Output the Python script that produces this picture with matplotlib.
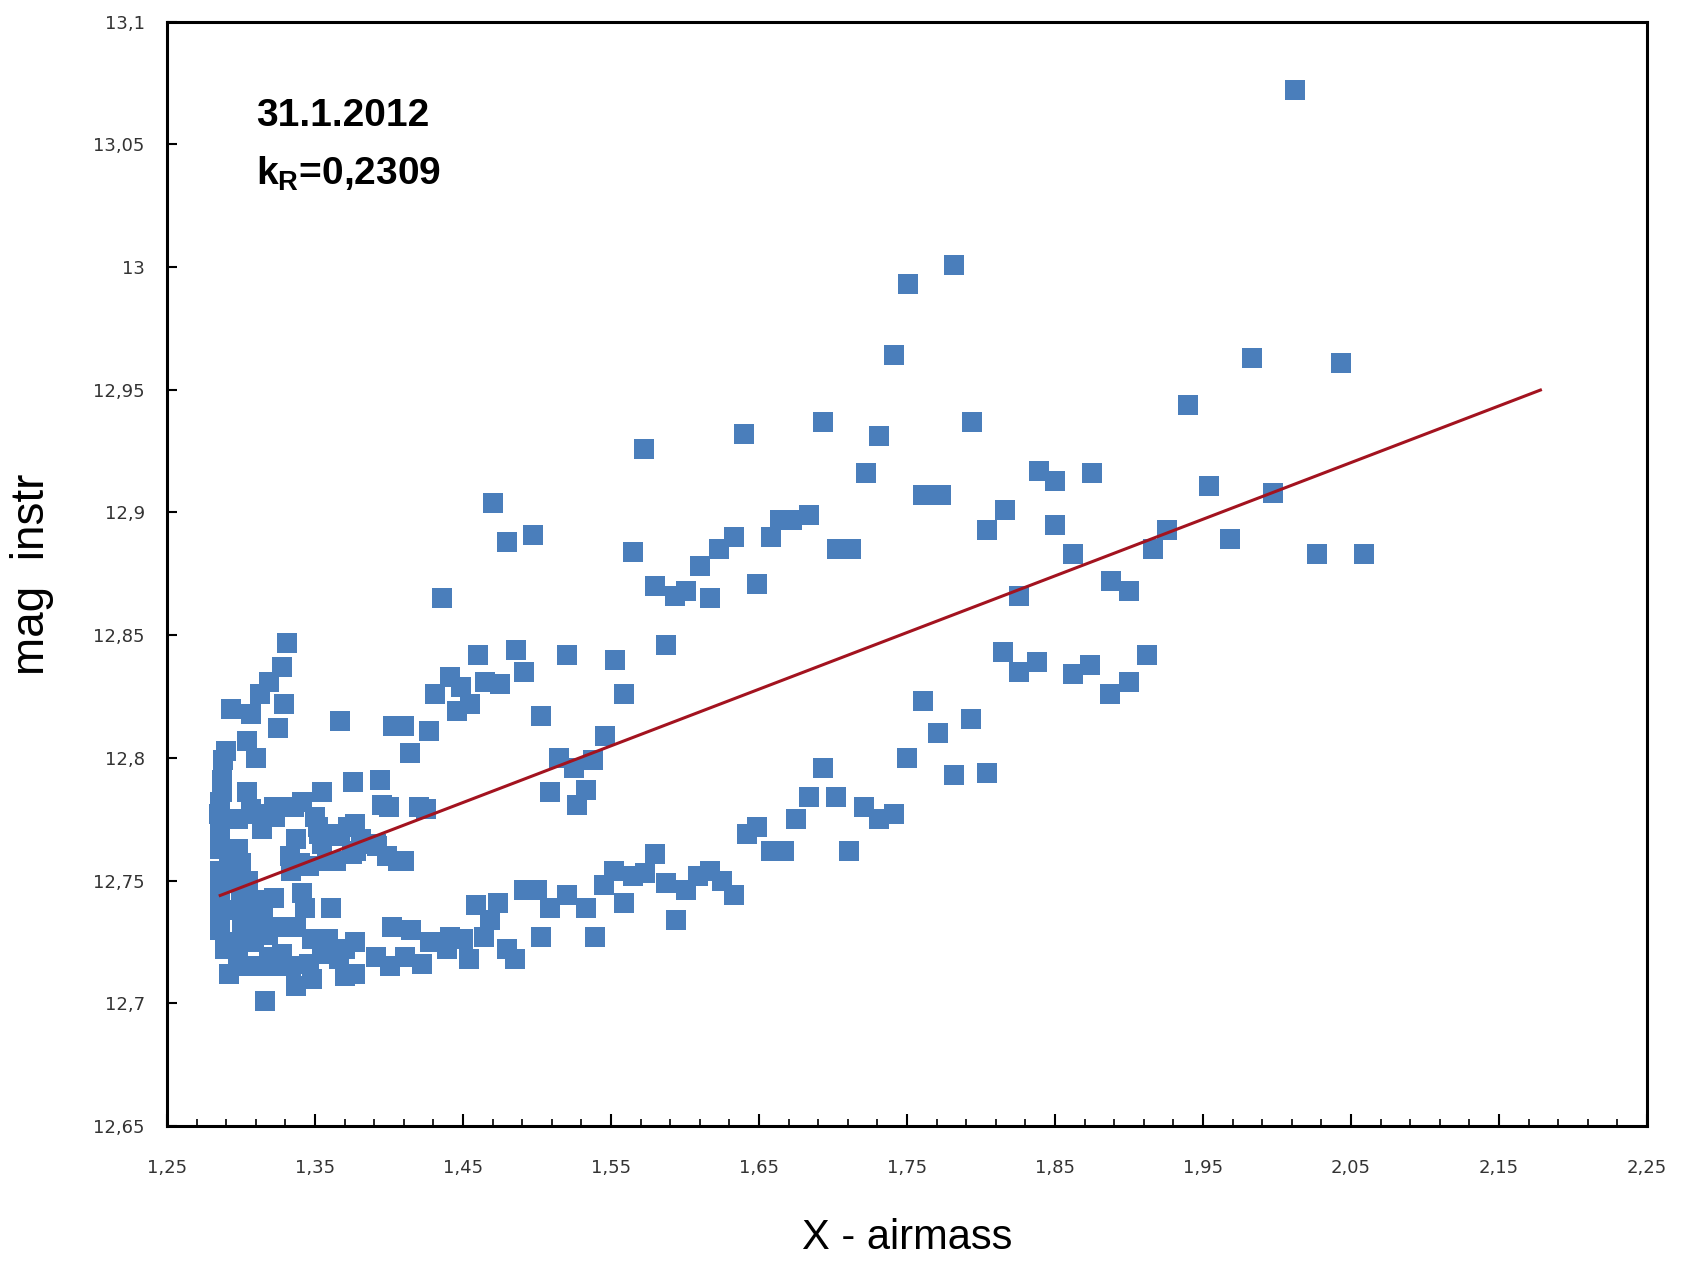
import numpy as np
import matplotlib
matplotlib.use("Agg")
import matplotlib.pyplot as plt
from matplotlib.ticker import FixedLocator, FuncFormatter

# airmass / instrumental magnitude
airmass = [
    # upper / right scattered points
    2.012, 1.782, 1.751, 1.741, 1.983, 2.043, 1.940, 1.693, 1.731, 1.794,
    1.640, 1.572, 1.722, 1.839, 1.850, 1.875, 1.954, 1.761, 1.773, 1.997,
    1.470, 1.816, 1.664, 1.672, 1.684, 1.804, 1.850, 1.926, 1.497, 1.480,
    1.658, 1.633, 1.623, 1.703, 1.712, 1.968, 1.565, 1.862, 1.916, 2.027,
    2.059, 1.610, 1.580, 1.649, 1.593, 1.601, 1.617, 1.888, 1.900, 1.436,
    1.826,
    # 12.84 group and middle
    1.460, 1.486, 1.520, 1.553, 1.587, 1.815, 1.912, 1.838, 1.874, 1.826,
    1.862, 1.900, 1.887, 1.559, 1.491, 1.441, 1.431, 1.449, 1.465, 1.475,
    1.455, 1.446, 1.427, 1.414, 1.410, 1.503, 1.546, 1.515, 1.525, 1.538,
    1.509, 1.533, 1.527, 1.420, 1.425, 1.410,
    1.761, 1.771, 1.793, 1.750, 1.782, 1.804,
    # lower right band
    1.693, 1.684, 1.702, 1.721, 1.731, 1.741, 1.675, 1.711, 1.642, 1.649,
    1.658, 1.667,
    # lower band
    1.520, 1.533, 1.539, 1.545, 1.552, 1.559, 1.565, 1.573, 1.580, 1.587,
    1.594, 1.601, 1.609, 1.617, 1.625, 1.633,
    1.377, 1.377, 1.391, 1.401, 1.411, 1.422, 1.402, 1.415, 1.428, 1.441,
    1.450, 1.454, 1.439, 1.459, 1.474, 1.468, 1.464, 1.491, 1.500, 1.509,
    1.480, 1.485, 1.503,
    1.376, 1.395, 1.400, 1.377, 1.378, 1.391, 1.399, 1.406,
    # left cluster
    1.331, 1.328, 1.319, 1.313, 1.329, 1.293, 1.307, 1.325, 1.367, 1.304,
    1.290, 1.288, 1.310, 1.287, 1.287, 1.286, 1.285, 1.304, 1.307, 1.322,
    1.323, 1.355, 1.341, 1.350,
    1.403, 1.394, 1.353, 1.360, 1.367, 1.372, 1.381, 1.392, 1.337, 1.333,
    1.340, 1.358,
    1.286, 1.286, 1.286, 1.286, 1.286, 1.286, 1.298, 1.298, 1.295, 1.301,
    1.301, 1.311, 1.314, 1.341, 1.343, 1.361, 1.310, 1.312, 1.325, 1.337,
    1.348, 1.359, 1.370, 1.296, 1.307, 1.319, 1.328, 1.334, 1.346, 1.355,
    1.366, 1.292, 1.303, 1.314, 1.325, 1.337, 1.348, 1.370, 1.316, 1.334,
    1.346, 1.336, 1.352, 1.355, 1.366, 1.364, 1.375, 1.300,
    1.295, 1.305, 1.300, 1.292, 1.296, 1.305, 1.309, 1.318, 1.289, 1.298,
    1.315, 1.322,
]
mag = [
    13.072, 13.001, 12.993, 12.964, 12.963, 12.961, 12.944, 12.937, 12.931, 12.937,
    12.932, 12.926, 12.916, 12.917, 12.913, 12.916, 12.911, 12.907, 12.907, 12.908,
    12.904, 12.901, 12.897, 12.897, 12.899, 12.893, 12.895, 12.893, 12.891, 12.888,
    12.890, 12.890, 12.885, 12.885, 12.885, 12.889, 12.884, 12.883, 12.885, 12.883,
    12.883, 12.878, 12.870, 12.871, 12.866, 12.868, 12.865, 12.872, 12.868, 12.865,
    12.866,
    12.842, 12.844, 12.842, 12.840, 12.846, 12.843, 12.842, 12.839, 12.838, 12.835,
    12.834, 12.831, 12.826, 12.826, 12.835, 12.833, 12.826, 12.829, 12.831, 12.830,
    12.822, 12.819, 12.811, 12.802, 12.813, 12.817, 12.809, 12.800, 12.796, 12.799,
    12.786, 12.787, 12.781, 12.780, 12.779, 12.758,
    12.823, 12.810, 12.816, 12.800, 12.793, 12.794,
    12.796, 12.784, 12.784, 12.780, 12.775, 12.777, 12.775, 12.762, 12.769, 12.772,
    12.762, 12.762,
    12.744, 12.739, 12.727, 12.748, 12.754, 12.741, 12.752, 12.753, 12.761, 12.749,
    12.734, 12.746, 12.752, 12.754, 12.750, 12.744,
    12.725, 12.712, 12.719, 12.715, 12.719, 12.716, 12.731, 12.730, 12.725, 12.727,
    12.726, 12.718, 12.722, 12.740, 12.741, 12.734, 12.727, 12.746, 12.746, 12.739,
    12.722, 12.718, 12.727,
    12.790, 12.781, 12.780, 12.773, 12.762, 12.765, 12.760, 12.758,
    12.847, 12.837, 12.831, 12.826, 12.822, 12.820, 12.818, 12.812, 12.815, 12.807,
    12.803, 12.799, 12.800, 12.791, 12.786, 12.782, 12.777, 12.786, 12.779, 12.780,
    12.776, 12.786, 12.782, 12.776,
    12.813, 12.791, 12.769, 12.769, 12.769, 12.772, 12.767, 12.764, 12.767, 12.760,
    12.757, 12.758,
    12.771, 12.763, 12.754, 12.746, 12.738, 12.730, 12.775, 12.763, 12.749, 12.739,
    12.731, 12.777, 12.771, 12.745, 12.739, 12.739, 12.742, 12.737, 12.731, 12.731,
    12.726, 12.726, 12.722, 12.725, 12.725, 12.719, 12.720, 12.715, 12.716, 12.720,
    12.718, 12.712, 12.715, 12.715, 12.715, 12.707, 12.710, 12.711, 12.701, 12.754,
    12.756, 12.780, 12.772, 12.765, 12.768, 12.758, 12.761, 12.757,
    12.757, 12.750, 12.745, 12.762, 12.738, 12.732, 12.726, 12.728, 12.722, 12.720,
    12.735, 12.743,
]

# linear trend (extinction coefficient)
k_R = 0.2309
intercept = 12.447
trend_x = [1.286, 2.178]

x_ticks = [1.25, 1.35, 1.45, 1.55, 1.65, 1.75, 1.85, 1.95, 2.05, 2.15, 2.25]
y_ticks = [12.65, 12.7, 12.75, 12.8, 12.85, 12.9, 12.95, 13.0, 13.05, 13.1]


def comma(v, pos=None):
    return ('%g' % round(v, 4)).replace('.', ',')


plt.rcParams['mathtext.fontset'] = 'custom'
plt.rcParams['mathtext.rm'] = 'Liberation Sans:bold'

fig = plt.figure(figsize=(16.88, 12.63), dpi=100)
ax = fig.add_axes([0.0989, 0.1085, 0.8768, 0.8743])

ax.plot(airmass, mag, 's', ms=14, color='#4a7ebb', mew=0, zorder=2)
tx = np.array(trend_x)
ax.plot(tx, intercept + k_R * tx, color='#a3131f', lw=2.2, zorder=3)

ax.set_xlim(1.25, 2.25)
ax.set_ylim(12.65, 13.1)

ax.xaxis.set_major_locator(FixedLocator(x_ticks))
ax.xaxis.set_minor_locator(FixedLocator(np.arange(1.25, 2.2501, 0.02)))
ax.yaxis.set_major_locator(FixedLocator(y_ticks))
ax.xaxis.set_major_formatter(FuncFormatter(comma))
ax.yaxis.set_major_formatter(FuncFormatter(comma))

ax.tick_params(axis='x', which='major', direction='in', length=9, width=1.5,
               pad=24, labelsize=13, labelcolor='#333333')
ax.tick_params(axis='x', which='minor', direction='in', length=5, width=1.2)
ax.tick_params(axis='y', which='major', direction='in', length=7, width=1.5,
               pad=16, labelsize=13, labelcolor='#333333')

for s in ax.spines.values():
    s.set_linewidth(2.2)
    s.set_color('black')

ax.set_xlabel('X - airmass', fontsize=30, family='Liberation Sans')
ax.xaxis.set_label_coords(0.5, -0.083)
ax.set_ylabel('mag  instr', fontsize=33, family='Liberation Sans')
ax.yaxis.set_label_coords(-0.076, 0.5)

ax.text(0.06, 0.915, '31.1.2012', transform=ax.transAxes, fontsize=28,
        fontweight='bold', family='Liberation Sans', va='center')
ax.text(0.06, 0.862, r'k$_\mathrm{R}$=0,2309', transform=ax.transAxes,
        fontsize=28, fontweight='bold', family='Liberation Sans', va='center')

fig.savefig('out.png', dpi=100)
